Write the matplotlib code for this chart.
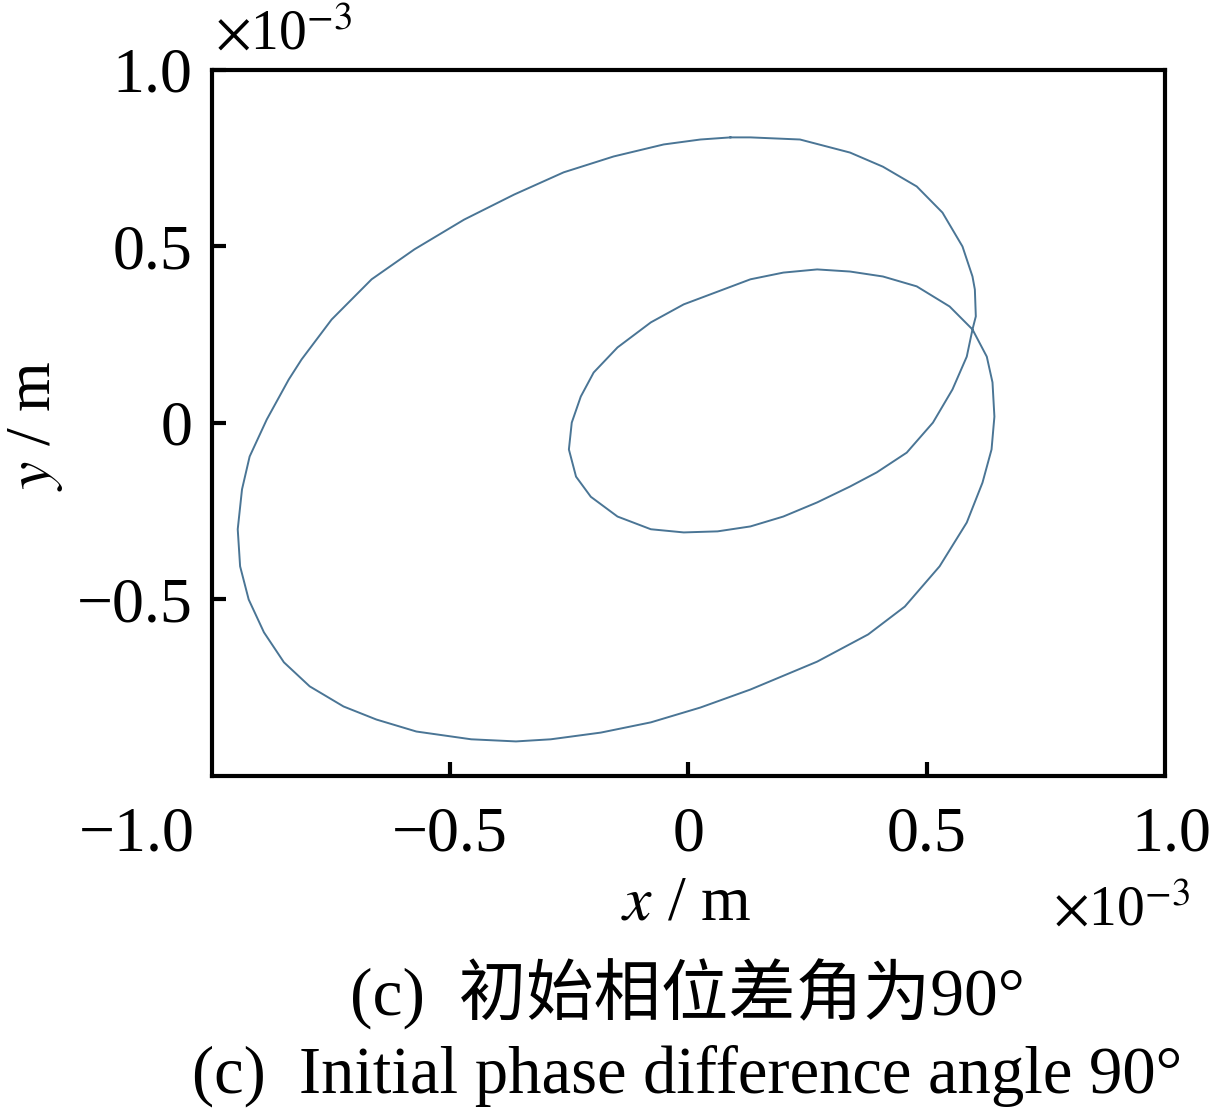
import matplotlib
matplotlib.use('Agg')
import matplotlib.pyplot as plt

# trajectory, units of 1e-3 m
x_pts = [0.088, 0.130, 0.234, 0.339, 0.408, 0.479, 0.533, 0.575, 0.596, 0.601, 0.603,
         0.596, 0.584, 0.554, 0.513, 0.458, 0.395, 0.339, 0.270, 0.199, 0.130,
         0.061, -0.010, -0.079, -0.149, -0.205, -0.236, -0.251, -0.245, -0.226, -0.199,
         -0.149, -0.079, -0.010, 0.061, 0.130, 0.199, 0.270, 0.339, 0.408, 0.479,
         0.548, 0.596, 0.626, 0.638, 0.642, 0.636, 0.617, 0.584, 0.527, 0.454,
         0.377, 0.270, 0.130, 0.025, -0.079, -0.184, -0.289, -0.362, -0.456, -0.571,
         -0.655, -0.724, -0.795, -0.849, -0.891, -0.923, -0.941, -0.946, -0.937, -0.921,
         -0.885, -0.839, -0.812, -0.749, -0.665, -0.575, -0.471, -0.366, -0.262, -0.157,
         -0.052, 0.025, 0.088]
y_pts = [0.809, 0.809, 0.803, 0.766, 0.726, 0.670, 0.596, 0.500, 0.415, 0.378, 0.302,
         0.265, 0.188, 0.095, 0.001, -0.084, -0.140, -0.180, -0.225, -0.265, -0.293,
         -0.307, -0.310, -0.301, -0.265, -0.209, -0.152, -0.075, 0.001, 0.075, 0.143,
         0.214, 0.285, 0.336, 0.372, 0.407, 0.426, 0.435, 0.429, 0.415, 0.387,
         0.330, 0.265, 0.188, 0.115, 0.018, -0.075, -0.169, -0.282, -0.406, -0.520,
         -0.599, -0.676, -0.755, -0.806, -0.848, -0.877, -0.896, -0.902, -0.896, -0.874,
         -0.840, -0.803, -0.746, -0.678, -0.593, -0.500, -0.406, -0.301, -0.188, -0.095,
         0.010, 0.123, 0.180, 0.293, 0.407, 0.492, 0.576, 0.647, 0.710, 0.755,
         0.789, 0.803, 0.809]

x_ticks = [-0.5, 0, 0.5]
x_ticklabels = ['\u22120.5', '0', '0.5']
y_ticks = [-0.5, 0, 0.5, 1.0]
y_ticklabels = ['\u22120.5', '0', '0.5', '1.0']

serif = ['Liberation Serif', 'DejaVu Serif']
cjk = ['Liberation Serif', 'Noto Sans CJK SC']
plt.rcParams['font.family'] = serif
plt.rcParams['mathtext.fontset'] = 'stix'

fig = plt.figure(figsize=(12.10, 11.14), dpi=100)
ax = fig.add_axes([0.1752, 0.3034, 0.7876, 0.6338])

ax.plot(x_pts, y_pts, color='#4a7595', lw=1.4)

ax.set_xlim(-1.0, 1.0)
ax.set_ylim(-1.0, 1.0)
ax.set_xticks(x_ticks)
ax.set_xticklabels(x_ticklabels)
ax.set_yticks(y_ticks)
ax.set_yticklabels(y_ticklabels)
ax.tick_params(direction='in', length=10, width=3, labelsize=46)
ax.tick_params(axis='x', pad=22)
ax.tick_params(axis='y', pad=14)
for s in ax.spines.values():
    s.set_linewidth(3)

# end labels of the x axis, placed like in the original
lab_y = -(22 * 100 / 72) / (0.6338 * 1114)
ax.text(-0.079, lab_y, '\u22121.0', fontsize=46, ha='center', va='top',
        transform=ax.transAxes)
ax.text(1.007, lab_y, '1.0', fontsize=46, ha='center', va='top',
        transform=ax.transAxes)

# axis labels
fig.text(0.5675, 0.188, r'$\it{x}$ / m', fontsize=46, ha='center', va='center')
fig.text(0.029, 0.618, r'$\it{y}$ / m', fontsize=46, ha='center', va='center', rotation=90)

# exponent markers
fig.text(0.178, 0.968, r'$\times$10$^{-3}$', fontsize=40, ha='left', va='center')
fig.text(0.870, 0.182, r'$\times$10$^{-3}$', fontsize=40, ha='left', va='center')

# captions
fig.text(0.568, 0.107, '(c)  初始相位差角为90°', fontsize=48.5, ha='center', va='center', family=cjk)
fig.text(0.568, 0.034, '(c)  Initial phase difference angle 90°', fontsize=48, ha='center', va='center')

fig.savefig('out.png', dpi=100)
